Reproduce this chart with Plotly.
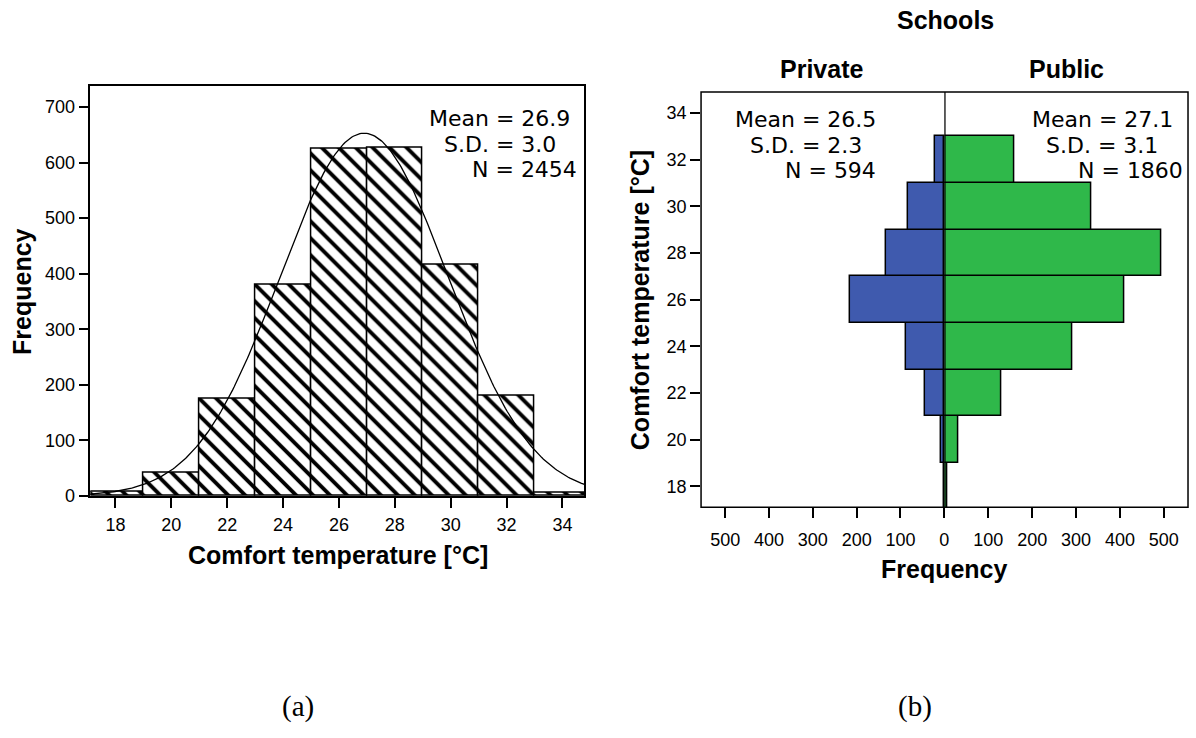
import numpy as np
import plotly.graph_objects as go

# ---------------- data ----------------
bin_centers_all = [18, 20, 22, 24, 26, 28, 30, 32, 34]
freq_all = [8, 41, 174, 379, 624, 627, 416, 180, 5]
mean_all, sd_all, n_all = 26.9, 3.0, 2454

bin_centers_school = [18, 20, 22, 24, 26, 28, 30, 32]
freq_private = [1, 8, 44, 88, 216, 133, 82, 22]
freq_public = [7, 33, 130, 292, 410, 494, 335, 159]
mean_priv, sd_priv, n_priv = 26.5, 2.3, 594
mean_pub, sd_pub, n_pub = 27.1, 3.1, 1860

temp_ticks = [18, 20, 22, 24, 26, 28, 30, 32, 34]
freq_ticks_left = [0, 100, 200, 300, 400, 500, 600, 700]
freq_ticks_right = [0, 100, 200, 300, 400, 500]

W, H = 1196, 738
def px(x):
    return x / W
def py(y):
    return 1 - y / H

FONT = "Liberation Sans, Arial, sans-serif"
STATFONT = "DejaVu Sans, Liberation Sans, sans-serif"
BLUE = "#3F5AAE"
GREEN = "#2FB84A"

fig = go.Figure()

# ---------- (a) histogram ----------
fig.add_trace(go.Bar(
    x=bin_centers_all, y=freq_all, width=2,
    marker=dict(color="white",
                line=dict(color="black", width=1.5),
                pattern=dict(shape="\\", fgcolor="black", bgcolor="white",
                             size=12, solidity=0.32, fillmode="replace")),
    xaxis="x", yaxis="y", showlegend=False))

xs = np.linspace(17.1, 34.8, 300)
bw = 2.0
curve = n_all * bw / (sd_all * np.sqrt(2 * np.pi)) * np.exp(-0.5 * ((xs - mean_all) / sd_all) ** 2)
fig.add_trace(go.Scatter(x=xs, y=curve, mode="lines",
                         line=dict(color="black", width=1.3),
                         xaxis="x", yaxis="y", showlegend=False))

# ---------- (b) population pyramid ----------
fig.add_trace(go.Bar(
    y=bin_centers_school, x=freq_private, width=2, orientation="h",
    marker=dict(color=BLUE, line=dict(color="black", width=1.5)),
    xaxis="x2", yaxis="y2", showlegend=False))
fig.add_trace(go.Bar(
    y=bin_centers_school, x=freq_public, width=2, orientation="h",
    marker=dict(color=GREEN, line=dict(color="black", width=1.5)),
    xaxis="x3", yaxis="y2", showlegend=False))

tickfont = dict(family=FONT, size=18, color="black")

fig.update_layout(
    width=W, height=H,
    margin=dict(l=0, r=0, t=0, b=0),
    paper_bgcolor="white", plot_bgcolor="rgba(0,0,0,0)",
    bargap=0,
    font=dict(family=FONT, color="black"),
    xaxis=dict(domain=[px(90.7), px(586.7)], range=[17.1, 34.78],
               tickvals=temp_ticks, ticks="outside", ticklen=10, tickwidth=1.5,
               tickcolor="black", showline=True, linecolor="black", linewidth=1.5,
               mirror=True, showgrid=False, zeroline=False, tickfont=tickfont,
               ticklabelstandoff=2, anchor="y"),
    yaxis=dict(domain=[py(502.7), py(87)], range=[0, 738],
               tickvals=freq_ticks_left, ticks="outside", ticklen=10, tickwidth=1.5,
               tickcolor="black", showline=True, linecolor="black", linewidth=1.5,
               mirror=True, showgrid=False, zeroline=False, tickfont=tickfont,
               ticklabelstandoff=0, anchor="x"),
    xaxis2=dict(domain=[px(704), px(948.3)], range=[555, 0],
                tickvals=freq_ticks_right, ticks="outside", ticklen=10, tickwidth=1.5,
                tickcolor="black", showline=False, showgrid=False, zeroline=False,
                tickfont=tickfont, ticklabelstandoff=6, anchor="y2"),
    xaxis3=dict(domain=[px(948.3), px(1193)], range=[0, 555],
                tickvals=freq_ticks_right[1:], ticks="outside", ticklen=10, tickwidth=1.5,
                tickcolor="black", showline=False, showgrid=False, zeroline=False,
                tickfont=tickfont, ticklabelstandoff=6, anchor="y2"),
    yaxis2=dict(domain=[py(514.3), py(93.3)], range=[17.1, 34.9],
                tickvals=temp_ticks, ticks="outside", ticklen=10, tickwidth=1.5,
                tickcolor="black", showline=False, showgrid=False, zeroline=False,
                tickfont=tickfont, ticklabelstandoff=0, anchor="x2"),
)

shapes = [
    # frame of (b)
    dict(type="rect", xref="paper", yref="paper",
         x0=px(704), x1=px(1193), y0=py(514.3), y1=py(93.3),
         line=dict(color="black", width=1.5), fillcolor="rgba(0,0,0,0)", layer="above"),
    # center line at 0
    dict(type="line", xref="x3", yref="y2 domain", x0=0, x1=0, y0=0, y1=1,
         line=dict(color="black", width=2.5), layer="above"),
]
fig.update_layout(shapes=shapes)

ann = []
def text(x, y, s, size=25, bold=False, xanchor="center", angle=0, family=FONT):
    ann.append(dict(x=px(x), y=py(y), xref="paper", yref="paper",
                    text=("<b>%s</b>" % s) if bold else s, showarrow=False,
                    xanchor=xanchor, yanchor="middle", textangle=angle,
                    font=dict(family=family, size=size, color="black")))

SS = 22
# stats (a)
text(574, 120, "Mean = %.1f" % mean_all, size=SS, xanchor="right", family=STATFONT)
text(560, 146, "S.D. = %.1f" % sd_all, size=SS, xanchor="right", family=STATFONT)
text(581, 172, "N = %d" % n_all, size=SS, xanchor="right", family=STATFONT)
# stats (b) private
text(882, 121, "Mean = %.1f" % mean_priv, size=SS, xanchor="right", family=STATFONT)
text(868, 147, "S.D. = %.1f" % sd_priv, size=SS, xanchor="right", family=STATFONT)
text(882, 173, "N = %d" % n_priv, size=SS, xanchor="right", family=STATFONT)
# stats (b) public
text(1180, 121, "Mean = %.1f" % mean_pub, size=SS, xanchor="right", family=STATFONT)
text(1165, 147, "S.D. = %.1f" % sd_pub, size=SS, xanchor="right", family=STATFONT)
text(1190, 173, "N = %d" % n_pub, size=SS, xanchor="right", family=STATFONT)

# titles
text(339, 563, "Comfort temperature [°C]", size=25, bold=True)
text(22, 295, "Frequency", size=25, bold=True, angle=-90)
text(948, 577, "Frequency", size=25, bold=True)
text(643, 304, "Comfort temperature [°C]", size=25, bold=True, angle=-90)
text(949, 20, "Schools", size=25, bold=True)
text(825, 70, "Private", size=25, bold=True)
text(1071, 70, "Public", size=25, bold=True)

# panel labels
text(299, 716, "(a)", size=29, family="Liberation Serif, Times New Roman, serif")
text(919, 716, "(b)", size=29, family="Liberation Serif, Times New Roman, serif")

fig.update_layout(annotations=ann)

fig.write_html("out.html")
